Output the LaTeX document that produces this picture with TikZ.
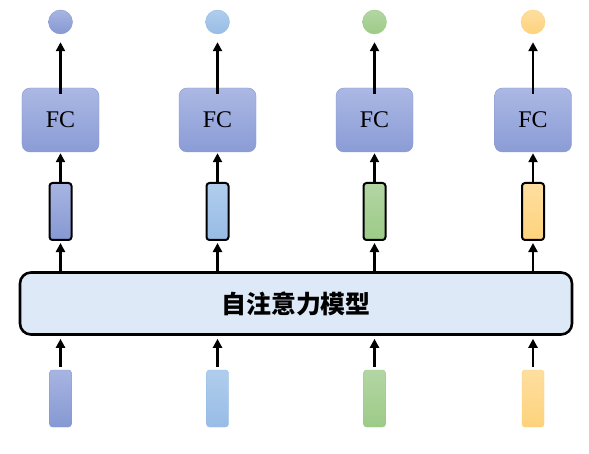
\documentclass[tikz,border=0pt]{standalone}
\usepackage{fontspec}
\setmainfont{Liberation Serif}
\newfontfamily\cjk{Noto Sans CJK SC}
\usetikzlibrary{arrows.meta}
\definecolor{cAt}{HTML}{A7B5E1}\definecolor{cAb}{HTML}{8698D3}
\definecolor{cBt}{HTML}{B0CDEC}\definecolor{cBb}{HTML}{98BCE6}
\definecolor{cCt}{HTML}{B3D6A3}\definecolor{cCb}{HTML}{9CCB88}
\definecolor{cDt}{HTML}{FEDFA0}\definecolor{cDb}{HTML}{FDD27C}
\definecolor{fcT}{HTML}{ABB8E4}\definecolor{fcB}{HTML}{8B9CD6}
\definecolor{fcD}{HTML}{8A9ACF}
\definecolor{bigF}{HTML}{DEE9F7}
\tikzset{
  arr/.style={line width=2.4bp,-{Triangle[length=9bp,width=9bp]}},
  outc/.style={circle,minimum size=24bp,inner sep=0pt,line width=0.4bp},
  fcbox/.style={rectangle,rounded corners=8bp,minimum width=77bp,minimum height=64bp,
    top color=fcT,bottom color=fcB,draw=fcD,line width=0.4bp,
    font=\fontsize{24}{28}\selectfont},
  midbox/.style={rectangle,rounded corners=3bp,minimum width=22bp,minimum height=57bp,
    inner sep=0pt,draw=black,line width=2bp},
  inbox/.style={rectangle,rounded corners=3bp,minimum width=22bp,minimum height=57bp,
    inner sep=0pt,line width=0.4bp},
  bigbox/.style={rectangle,rounded corners=11bp,minimum width=552bp,minimum height=62bp,
    fill=bigF,draw=black,line width=2.6bp,
    font=\cjk\bfseries\fontsize{25}{29}\selectfont}
}
\begin{document}
\begin{tikzpicture}[x=1bp,y=-1bp]
\useasboundingbox (0,0) rectangle (589,454);
\node[bigbox] (big) at (296,303.5) {自注意力模型};
\foreach \i/\x/\c in {1/60.5/A,2/217.5/B,3/374.5/C,4/533/D}{
  \node[outc,top color=c\c t,bottom color=c\c b,draw=c\c b] (o\i) at (\x,22) {};
  \node[fcbox] (fc\i) at (\x,120) {FC};
  \node[midbox,top color=c\c t,bottom color=c\c b] (m\i) at (\x,211.5) {};
  \node[inbox,top color=c\c t,bottom color=c\c b,draw=c\c b] (in\i) at (\x,398.5) {};
  \draw[arr,shorten <=3bp,shorten >=3bp] (in\i.north) -- (in\i.north |- big.south);
  \draw[arr,shorten >=2bp] (m\i.south |- big.north) -- (m\i.south);
  \draw[arr,shorten >=1bp] (m\i.north) -- (fc\i.south);
  \draw[arr,shorten <=-6bp,shorten >=8bp] (fc\i.north) -- (o\i.south);
}
\end{tikzpicture}
\end{document}
